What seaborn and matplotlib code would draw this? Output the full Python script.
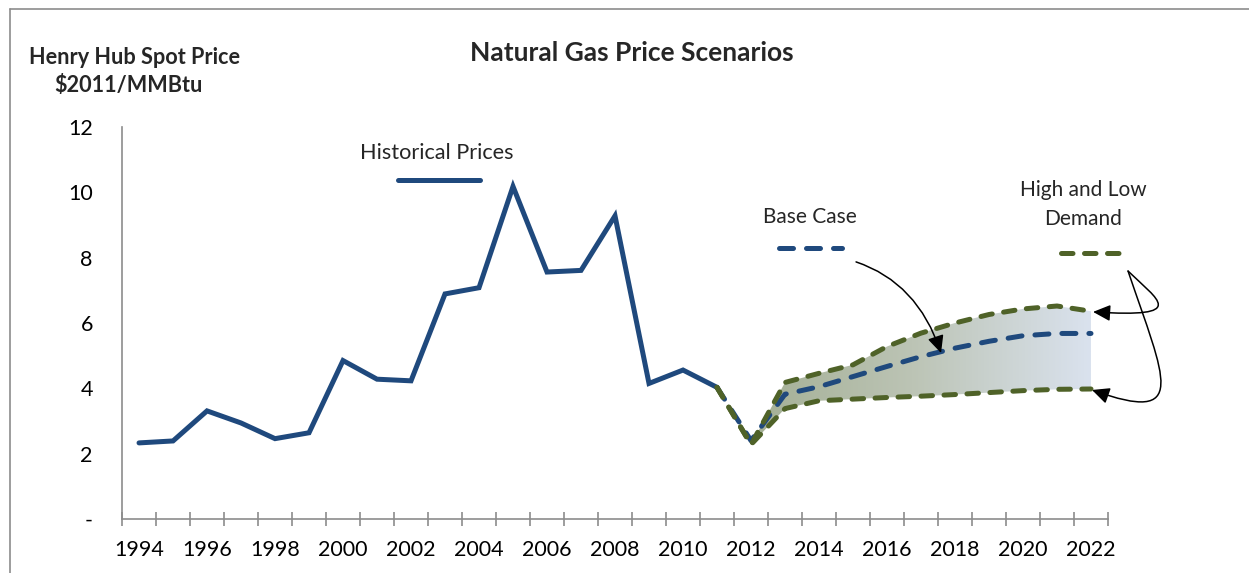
import numpy as np
import pandas as pd
import seaborn as sns
import matplotlib.pyplot as plt
from matplotlib.lines import Line2D
from matplotlib.path import Path
from matplotlib.patches import FancyArrowPatch
from matplotlib.colors import LinearSegmentedColormap

# -------------------------------------------------
# Data ($2011/MMBtu)
# -------------------------------------------------
hist_years = list(range(1994, 2012))
hist_price = [2.33, 2.39, 3.31, 2.94, 2.46, 2.64, 4.85, 4.28, 4.23,
              6.89, 7.08, 10.18, 7.56, 7.61, 9.28, 4.15, 4.56, 4.03]

proj_years = list(range(2011, 2023))
base_case = [4.03, 2.40, 3.82, 4.05, 4.36, 4.67, 4.97, 5.23, 5.44, 5.61, 5.68, 5.68]
high_demand = [4.03, 2.28, 4.18, 4.46, 4.72, 5.28, 5.69, 6.00, 6.26, 6.43, 6.52, 6.36]
low_demand = [4.03, 2.28, 3.38, 3.62, 3.67, 3.72, 3.76, 3.81, 3.87, 3.93, 3.97, 3.98]

year_ticks = list(range(1994, 2023, 2))
price_ticks = [0, 2, 4, 6, 8, 10, 12]
price_labels = ['-', '2', '4', '6', '8', '10', '12']

hist_df = pd.DataFrame({'year': hist_years, 'price': hist_price})
proj_df = pd.DataFrame({'year': proj_years, 'base': base_case,
                        'high': high_demand, 'low': low_demand})

BLUE = '#1F497D'
GREEN = '#4F6228'
GREY = '#8C8C8C'
LW = 3.6

sns.set_theme(style='white')
plt.rcParams['font.family'] = ['Lato', 'DejaVu Sans']

fig = plt.figure(figsize=(12.49, 5.73), dpi=100)
ax = fig.add_axes([0.0977, 0.0942, 0.7894, 0.6842])

# -- shaded band between high and low demand, gradient left to right --
band = ax.fill_between(proj_df['year'], proj_df['low'], proj_df['high'],
                       facecolor='none', edgecolor='none', zorder=1)
grad_cmap = LinearSegmentedColormap.from_list(
    'band', ['#A1AD91', '#BCC4B5', '#DAE2EE'])
grad = np.linspace(0, 1, 256).reshape(1, -1)
img = ax.imshow(grad, cmap=grad_cmap, aspect='auto', origin='lower',
                extent=(2011.5, 2022, 0, 12), zorder=1)
img.set_clip_path(band.get_paths()[0], transform=ax.transData)

# -- lines --
sns.lineplot(data=hist_df, x='year', y='price', ax=ax, color=BLUE,
             linewidth=LW, solid_capstyle='round', solid_joinstyle='miter', zorder=3)
sns.lineplot(data=proj_df, x='year', y='base', ax=ax, color=BLUE,
             linewidth=LW, linestyle=(0, (2.8, 2.6)), dash_capstyle='round', zorder=4)
sns.lineplot(data=proj_df, x='year', y='high', ax=ax, color=GREEN,
             linewidth=LW, linestyle=(0, (2.3, 2.3)), dash_capstyle='round', zorder=5)
sns.lineplot(data=proj_df, x='year', y='low', ax=ax, color=GREEN,
             linewidth=LW, linestyle=(0, (2.3, 2.3)), dash_capstyle='round', zorder=5)

# -- axes styling (Excel like) --
ax.set_xlim(1993.5, 2022.5)
ax.set_ylim(0, 12)
ax.set_xlabel('')
ax.set_ylabel('')
ax.set_xticks(year_ticks)
ax.set_xticklabels([str(y) for y in year_ticks])
ax.set_xticks(np.arange(1993.5, 2023, 1), minor=True)
ax.set_yticks(price_ticks)
ax.set_yticklabels(price_labels)
ax.tick_params(axis='x', which='major', length=0, pad=15, labelsize=15.5, colors='black')
ax.tick_params(axis='x', which='minor', direction='inout', length=10,
               width=1.2, color=GREY, bottom=True)
ax.tick_params(axis='y', length=0, pad=21, labelsize=15.5, colors='black')
for side in ['top', 'right']:
    ax.spines[side].set_visible(False)
for side in ['left', 'bottom']:
    ax.spines[side].set_color(GREY)
    ax.spines[side].set_linewidth(1.2)
ax.grid(False)

# -- titles --
fig.text(0.506, 0.9075, 'Natural Gas Price Scenarios', ha='center', va='center',
         fontsize=19, fontweight='bold')
fig.text(0.108, 1 - 57 / 573, 'Henry Hub Spot Price', ha='center', va='center',
         fontsize=15.6, fontweight='bold')
fig.text(0.103, 1 - 86 / 573, '$2011/MMBtu', ha='center', va='center',
         fontsize=15.6, fontweight='bold')

# -- in-plot legend blocks (label above key) --
ax.text(0.3195, 0.934, 'Historical Prices', transform=ax.transAxes,
        ha='center', va='center', fontsize=15.6)
ax.plot([0.2799, 0.3631], [0.8648, 0.8648], transform=ax.transAxes,
        color=BLUE, linewidth=LW, clip_on=False)
ax.text(0.6978, 0.770, 'Base Case', transform=ax.transAxes,
        ha='center', va='center', fontsize=15)
ax.plot([0.6663, 0.7302], [0.6913, 0.6913], transform=ax.transAxes,
        color=BLUE, linewidth=LW, linestyle=(0, (2.8, 2.6)),
        dash_capstyle='round', clip_on=False)
ax.text(0.9746, 0.839, 'High and Low', transform=ax.transAxes,
        ha='center', va='center', fontsize=15)
ax.text(0.9746, 0.765, 'Demand', transform=ax.transAxes,
        ha='center', va='center', fontsize=15)
ax.plot([0.9523, 1.0152], [0.6786, 0.6786], transform=ax.transAxes,
        color=GREEN, linewidth=LW, linestyle=(0, (2.3, 2.3)),
        dash_capstyle='round', clip_on=False)

# -- curved arrows pointing at the scenario lines --
arrow_style = '-|>,head_length=0.7,head_width=0.33'
arrow_paths = [
    Path([(2015.09, 7.87), (2016.90, 7.24), (2017.59, 5.08)],
         [Path.MOVETO, Path.CURVE3, Path.CURVE3]),
    Path([(2023.09, 7.59), (2023.97, 6.70), (2024.91, 6.15), (2022.06, 6.34)],
         [Path.MOVETO, Path.CURVE4, Path.CURVE4, Path.CURVE4]),
    Path([(2023.09, 7.59), (2024.18, 4.25), (2024.91, 2.88), (2022.03, 3.95)],
         [Path.MOVETO, Path.CURVE4, Path.CURVE4, Path.CURVE4]),
]
for p in arrow_paths:
    arr = FancyArrowPatch(path=p, arrowstyle=arrow_style, mutation_scale=15,
                          color='black', linewidth=1.1, transform=ax.transData,
                          clip_on=False, zorder=6)
    ax.add_patch(arr)

# -- chart frame (left and top edges visible in the crop) --
fig.add_artist(Line2D([10 / 1249, 10 / 1249], [0, 1 - 9 / 573],
                      transform=fig.transFigure, color=GREY, linewidth=1.2))
fig.add_artist(Line2D([10 / 1249, 1], [1 - 9 / 573, 1 - 9 / 573],
                      transform=fig.transFigure, color=GREY, linewidth=1.2))

fig.savefig('out.png', dpi=100, facecolor='white')
